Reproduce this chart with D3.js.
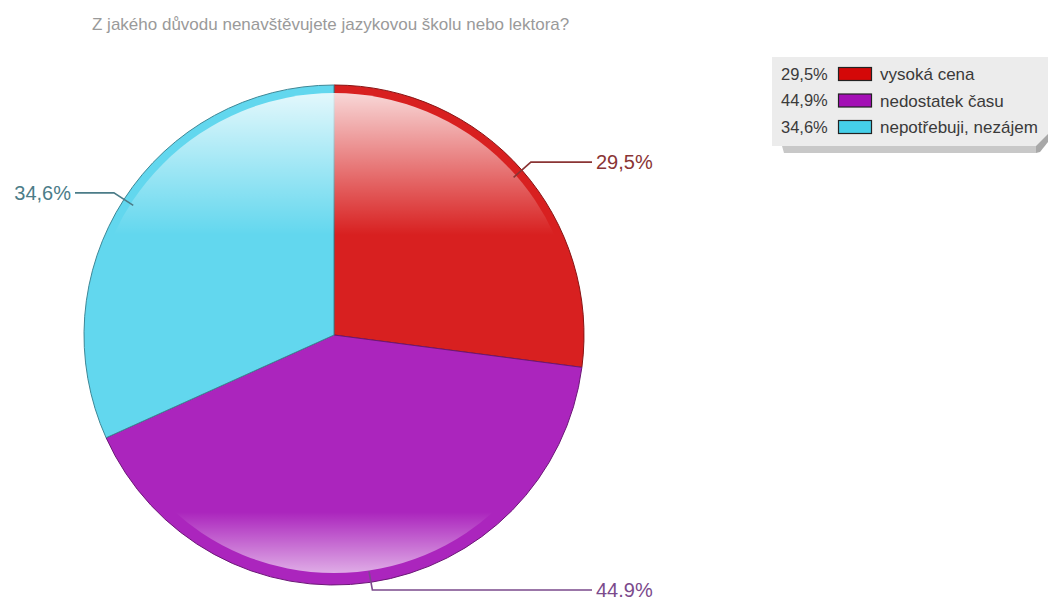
<!DOCTYPE html>
<html>
<head>
<meta charset="utf-8">
<script src="https://cdn.jsdelivr.net/npm/d3@7"></script>
<style>
  html, body { margin: 0; padding: 0; background: #fff; }
  svg { display: block; font-family: "Liberation Sans", Arial, sans-serif; }
</style>
</head>
<body>
<script>
// Survey answers: reasons for not attending a language school or tutor
const title = "Z jakého důvodu nenavštěvujete jazykovou školu nebo lektora?";
const categories = ["vysoká cena", "nedostatek času", "nepotřebuji, nezájem"];
const values = [29.5, 44.9, 34.6];
const sliceLabels = ["29,5%", "44.9%", "34,6%"];
const legendLabels = ["29,5%", "44,9%", "34,6%"];
const sliceColors = ["#d82020", "#ab25bd", "#62d7ee"];
const legendColors = ["#d40808", "#a30fb5", "#45d0ea"];
const labelColors = ["#8a3434", "#7b4a8c", "#4b7c88"];

const W = 1048, H = 601;
const cx = 334, cy = 335, R = 250;

const svg = d3.select("body").append("svg").attr("width", W).attr("height", H);
const defs = svg.append("defs");

// Title
svg.append("text")
  .attr("x", 92).attr("y", 24).attr("dy", "0.36em")
  .attr("font-size", 17)
  .attr("fill", "#9a9a9a")
  .text(title);

// Pie
const pie = d3.pie().sort(null).value(d => d);
const arcs = pie(values);
const arc = d3.arc().innerRadius(0).outerRadius(R);

const g = svg.append("g").attr("transform", `translate(${cx},${cy})`);

g.selectAll("path.slice")
  .data(arcs)
  .join("path")
  .attr("class", "slice")
  .attr("d", arc)
  .attr("fill", (d, i) => sliceColors[i])
  .attr("stroke", (d, i) => d3.color(sliceColors[i]).darker(1.3))
  .attr("stroke-width", 1)
  .attr("stroke-linejoin", "round");

// Glossy highlights: a fading sheen on top and a lighter rim at the bottom
const topGrad = defs.append("linearGradient")
  .attr("id", "topGloss").attr("gradientUnits", "userSpaceOnUse")
  .attr("x1", 0).attr("y1", -R + 8).attr("x2", 0).attr("y2", -100);
topGrad.append("stop").attr("offset", 0).attr("stop-color", "#fff").attr("stop-opacity", 0.82);
topGrad.append("stop").attr("offset", 1).attr("stop-color", "#fff").attr("stop-opacity", 0);

const botGrad = defs.append("linearGradient")
  .attr("id", "botGloss").attr("gradientUnits", "userSpaceOnUse")
  .attr("x1", 0).attr("y1", 177).attr("x2", 0).attr("y2", 238);
botGrad.append("stop").attr("offset", 0).attr("stop-color", "#fff").attr("stop-opacity", 0);
botGrad.append("stop").attr("offset", 1).attr("stop-color", "#fff").attr("stop-opacity", 0.62);

defs.append("clipPath").attr("id", "topClip")
  .append("rect").attr("x", -R).attr("y", -R).attr("width", 2 * R).attr("height", R - 100);
defs.append("clipPath").attr("id", "botClip")
  .append("rect").attr("x", -R).attr("y", 177).attr("width", 2 * R).attr("height", 80);

g.append("circle").attr("r", R - 8)
  .attr("fill", "url(#topGloss)").attr("clip-path", "url(#topClip)");
g.append("circle").attr("r", R - 12)
  .attr("fill", "url(#botGloss)").attr("clip-path", "url(#botClip)");

// Leader lines and value labels
const rIn = 239, rOut = 262;
const maxY = 590 - cy;
arcs.forEach((d, i) => {
  const a = (d.startAngle + d.endAngle) / 2;
  const p1 = [rIn * Math.sin(a), -rIn * Math.cos(a)];
  const p2 = [rOut * Math.sin(a), Math.min(-rOut * Math.cos(a), maxY)];
  const right = Math.sin(a) >= 0;
  const xEnd = right ? 592 - cx : 75 - cx;
  g.append("polyline")
    .attr("points", [p1, p2, [xEnd, p2[1]]].map(p => p.join(",")).join(" "))
    .attr("fill", "none")
    .attr("stroke", labelColors[i])
    .attr("stroke-width", 1.6);
  g.append("text")
    .attr("x", right ? xEnd + 4 : xEnd - 4)
    .attr("y", p2[1])
    .attr("dy", "0.35em")
    .attr("text-anchor", right ? "start" : "end")
    .attr("font-size", 20)
    .attr("fill", labelColors[i])
    .text(sliceLabels[i]);
});

// Legend box with a drop shadow and a folded corner
const lx = 772, ly = 57, lh = 89;
svg.append("path")
  .attr("d", `M${lx + 10},${ly + lh} L${W - 12},${ly + lh} L${W - 12},${ly + lh + 7} L${lx + 12},${ly + lh + 7} Z`)
  .attr("fill", "#9a9a9a").attr("opacity", 0.55);
svg.append("path")
  .attr("d", `M${lx},${ly} L${W + 5},${ly} L${W + 5},${ly + lh - 16} L${W - 12},${ly + lh} L${lx},${ly + lh} Z`)
  .attr("fill", "#ececec");
svg.append("path")
  .attr("d", `M${W - 12},${ly + lh} L${W},${ly + lh - 12} L${W},${ly + lh - 4} L${W - 8},${ly + lh + 6} L${W - 12},${ly + lh + 7} Z`)
  .attr("fill", "#a8a8a8");

const legend = svg.append("g");
categories.forEach((c, i) => {
  const y = 74 + i * 26.5;
  legend.append("text")
    .attr("x", 781).attr("y", y).attr("dy", "0.36em")
    .attr("font-size", 16.5).attr("fill", "#3a3a3a")
    .text(legendLabels[i]);
  legend.append("rect")
    .attr("x", 838.5).attr("y", y - 6.5).attr("width", 33).attr("height", 13)
    .attr("fill", legendColors[i]).attr("stroke", "#222").attr("stroke-width", 1.2);
  legend.append("text")
    .attr("x", 880).attr("y", y).attr("dy", "0.36em")
    .attr("font-size", 17).attr("fill", "#3a3a3a")
    .text(c);
});
</script>
</body>
</html>
